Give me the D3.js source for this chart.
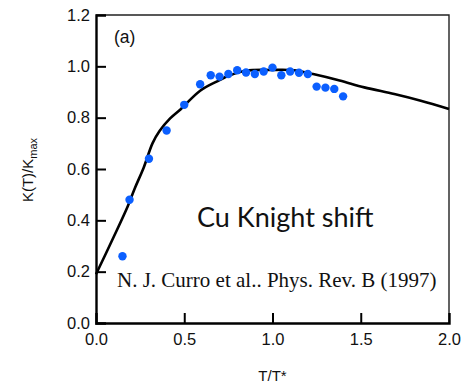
<!DOCTYPE html>
<html>
<head>
<meta charset="utf-8">
<script src="https://cdn.jsdelivr.net/npm/d3@7"></script>
<style>
  body { margin: 0; background: #fff; }
  svg { display: block; }
</style>
</head>
<body>
<svg id="chart"></svg>
<script>
    // measured points (Curro et al.)
    var dataX = [0.15, 0.19, 0.30, 0.40, 0.50, 0.59, 0.65, 0.70, 0.75, 0.80, 0.85, 0.90, 0.95, 1.00, 1.05, 1.10, 1.15, 1.20, 1.25, 1.30, 1.35, 1.40]
    var dataY = [0.26, 0.48, 0.64, 0.75, 0.85, 0.93, 0.965, 0.96, 0.97, 0.985, 0.976, 0.97, 0.98, 0.995, 0.965, 0.98, 0.975, 0.97, 0.921, 0.917, 0.912, 0.883]

    // model curve
    var curveX = [0, 0.10, 0.18, 0.22, 0.27, 0.32, 0.36, 0.42, 0.48, 0.59, 0.70, 0.75, 0.85, 0.99, 1.12, 1.23, 1.38, 1.52, 1.69, 1.84, 2.0]
    var curveY = [0.19, 0.335, 0.455, 0.525, 0.605, 0.70, 0.748, 0.797, 0.833, 0.905, 0.946, 0.963, 0.983, 0.986, 0.985, 0.97, 0.945, 0.918, 0.892, 0.866, 0.834]

    var xTicks = [0.0, 0.5, 1.0, 1.5, 2.0]
    var yTicks = [0.0, 0.2, 0.4, 0.6, 0.8, 1.0, 1.2]

    var width = 465;
    var height = 391;
    var margin = { top: 15, bottom: 68, left: 96, right: 16 }
    var bodyWidth = width - margin.left - margin.right;
    var bodyHeight = height - margin.top - margin.bottom;

    var sans = "'Liberation Sans', Arial, sans-serif"

    var svg = d3.select("#chart").attr("width", width).attr("height", height)
    var g = svg.append("g").attr("transform", `translate(${margin.left},${margin.top})`)

    var xScale = d3.scaleLinear().domain([0, 2]).range([0, bodyWidth])
    var yScale = d3.scaleLinear().domain([0, 1.2]).range([bodyHeight, 0])

    // top and right border (thin)
    g.append("path")
      .attr("d", `M0,0H${bodyWidth}V${bodyHeight}`)
      .attr("fill", "none").attr("stroke", "#222").attr("stroke-width", 1.4)

    // axes with inward ticks
    var xAxis = d3.axisBottom(xScale).tickValues(xTicks).tickSize(-10).tickPadding(14).tickFormat(d3.format(".1f"))
    var yAxis = d3.axisLeft(yScale).tickValues(yTicks).tickSize(-10).tickPadding(6).tickFormat(d3.format(".1f"))

    var gx = g.append("g").attr("transform", `translate(0,${bodyHeight})`).call(xAxis)
    var gy = g.append("g").call(yAxis)

    ;[gx, gy].forEach(a => {
      a.attr("font-family", sans)
      a.select(".domain").attr("stroke", "#000").attr("stroke-width", 2.4)
      a.selectAll(".tick line").attr("stroke", "#000").attr("stroke-width", 2)
      a.selectAll(".tick text")
        .attr("font-family", sans)
        .attr("font-size", 16.5).attr("fill", "#111")
    })
    // no tick marks on the ends
    gx.selectAll(".tick").filter(d => d === 0 || d === 2).select("line").remove()
    gy.selectAll(".tick").filter(d => d === 0 || d === 1.2).select("line").remove()
    gx.selectAll(".tick text").attr("dy", "0.5em")

    // model line
    var line = d3.line()
      .x(i => xScale(curveX[i]))
      .y(i => yScale(curveY[i]))
      .curve(d3.curveCatmullRom.alpha(0.5))

    g.append("path")
      .attr("d", line(d3.range(curveX.length)))
      .attr("fill", "none")
      .attr("stroke", "#000")
      .attr("stroke-width", 2.6)

    // data points
    g.selectAll(".pt").data(d3.range(dataX.length))
      .enter().append("circle")
      .attr("class", "pt")
      .attr("cx", i => xScale(dataX[i]))
      .attr("cy", i => yScale(dataY[i]))
      .attr("r", 4.2)
      .attr("fill", "#0b5fff")

    // panel label
    g.append("text").attr("x", 18).attr("y", 28)
      .attr("font-family", sans).attr("font-size", 17.5)
      .attr("fill", "#111").text("(a)")

    g.append("text").attr("x", 101).attr("y", 212)
      .attr("font-family", "Lato, 'Open Sans', sans-serif").attr("font-size", 27)
      .attr("fill", "#111").text("Cu Knight shift")

    g.append("text").attr("x", 21).attr("y", 272)
      .attr("font-family", "'Liberation Serif', 'Times New Roman', serif").attr("font-size", 21)
      .attr("fill", "#111").text("N. J. Curro et al.. Phys. Rev. B (1997)")

    // axis titles
    svg.append("text")
      .attr("x", margin.left + xScale(1)).attr("y", 381)
      .attr("text-anchor", "middle")
      .attr("font-family", sans).attr("font-size", 15)
      .attr("fill", "#111").text("T/T*")

    var yl = svg.append("text")
      .attr("transform", "translate(33,170) rotate(-90)")
      .attr("text-anchor", "middle")
      .attr("font-family", sans).attr("font-size", 15)
      .attr("fill", "#111")
    yl.append("tspan").text("K(T)/K")
    yl.append("tspan").attr("dy", 4).attr("font-size", 11).text("max")
</script>
</body>
</html>
